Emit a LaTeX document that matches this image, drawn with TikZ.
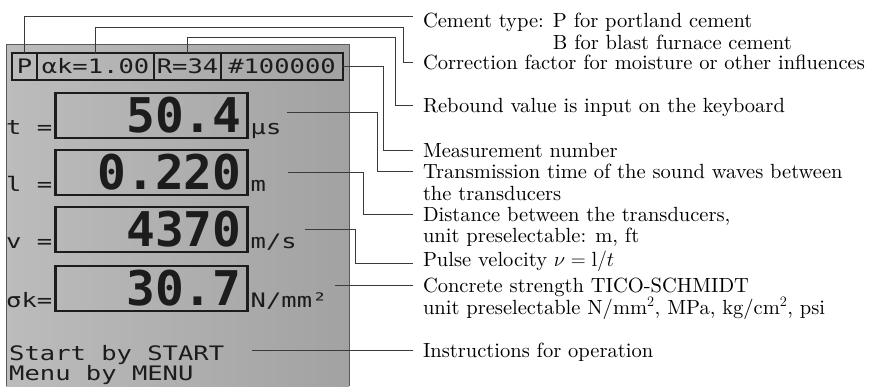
\documentclass[tikz,border=0pt]{standalone}
\usepackage{fontspec}
\usetikzlibrary{positioning}
\setmainfont{lmroman10-regular.otf}[ItalicFont=lmroman10-italic.otf, BoldFont=lmroman10-bold.otf]
\newfontfamily\lcdfont{DejaVu Sans Mono}
\definecolor{lcdLight}{HTML}{BCBCBC}
\definecolor{lcdDark}{HTML}{A2A2A2}
\definecolor{lcdEdge}{HTML}{5A5A5A}
\definecolor{lcdInk}{HTML}{1C1C1C}
\definecolor{leadGray}{HTML}{3A3A3A}
\newcommand{\lcdtext}[1]{{\lcdfont\fontsize{20}{20}\selectfont\scalebox{1.28}[1]{#1}}}
\tikzset{
  cell/.style={draw=lcdInk, line width=1.8bp, minimum height=27bp, inner sep=0pt, outer sep=0pt, text=lcdInk},
  valbox/.style={draw=lcdInk, line width=2.2bp, minimum height=45bp, text width=180bp, align=right, inner xsep=6bp, inner ysep=0pt, outer sep=0pt, text=lcdInk, font=\lcdfont\bfseries\fontsize{48}{48}\selectfont},
  lcdlabel/.style={anchor=base west, inner sep=0pt, text=lcdInk},
  lead/.style={draw=leadGray, line width=0.8bp},
  note/.style={anchor=base west, inner xsep=10bp, inner ysep=0pt, outer sep=0pt, text height=14bp, text depth=0pt, font=\fontsize{20.6}{22}\selectfont}
}

\begin{document}
\begin{tikzpicture}[x=1bp, y=-1bp]
  \useasboundingbox (0,0) rectangle (872,386);
  % display panel
  \fill[left color=lcdLight, right color=lcdDark] (6,44) rectangle (349,386);
  \draw[lcdEdge, line width=1bp] (6,386) -- (6,44) -- (349,44) -- (349,386);

  % status line
  \node[cell, minimum width=25bp, anchor=west] (ptype) at (12,66.5) {\lcdtext{P}};
  \node[cell, minimum width=117bp, right=0pt of ptype] (akcell) {\lcdtext{αk=1.00}};
  \node[cell, minimum width=67bp, right=0pt of akcell] (rcell) {\lcdtext{R=34}};
  \node[cell, minimum width=122bp, right=0pt of rcell] (numcell) {\lcdtext{\#100000}};

  % measured values
  \node[valbox] (tbox) at (151.5,115.5) {50.4};
  \node[valbox, below=12bp of tbox] (lbox) {0.220};
  \node[valbox, below=12bp of lbox] (vbox) {4370};
  \node[valbox, below=14bp of vbox] (sbox) {30.7};

  \node[lcdlabel, anchor=base east] (tlab) at ([xshift=-3bp,yshift=4bp]tbox.south west) {\lcdtext{t =}};
  \node[lcdlabel, anchor=base east] (llab) at ([xshift=-3bp,yshift=4bp]lbox.south west) {\lcdtext{l =}};
  \node[lcdlabel, anchor=base east] (vlab) at ([xshift=-3bp,yshift=4bp]vbox.south west) {\lcdtext{v =}};
  \node[lcdlabel, anchor=base east] (slab) at ([xshift=-3bp,yshift=4bp]sbox.south west) {\lcdtext{σk=}};

  \node[lcdlabel] (tunit) at ([xshift=3bp,yshift=4bp]tbox.south east) {\lcdtext{μs}};
  \node[lcdlabel] (lunit) at ([xshift=3bp,yshift=4bp]lbox.south east) {\lcdtext{m}};
  \node[lcdlabel] (vunit) at ([xshift=3bp,yshift=4bp]vbox.south east) {\lcdtext{m/s}};
  \node[lcdlabel] (sunit) at ([xshift=3bp,yshift=4bp]sbox.south east) {\lcdtext{N/mm²}};

  \node[lcdlabel] (startmsg) at (9,360) {\lcdtext{Start by START}};
  \node[lcdlabel] (menumsg) at (9,380) {\lcdtext{Menu by MENU}};

  % explanations
  \node[note] (cement) at (413,27) {Cement type: P for portland cement};
  \node[note] (blast) at (413,49) {\phantom{Cement type: }B for blast furnace cement};
  \node[note] (corr) at (413,69) {Correction factor for moisture or other influences};
  \node[note] (rebound) at (413,112) {Rebound value is input on the keyboard};
  \node[note] (meas) at (413,157) {Measurement number};
  \node[note] (trans) at (413,178) {Transmission time of the sound waves between};
  \node[note] (transb) at (413,200) {the transducers};
  \node[note] (dist) at (413,221) {Distance between the transducers,};
  \node[note] (distb) at (413,242) {unit preselectable: m, ft};
  \node[note] (pulse) at (413,266) {Pulse velocity $\nu = \mathrm{l}/t$};
  \node[note] (strength) at (413,292) {Concrete strength TICO-SCHMIDT};
  \node[note] (strengthb) at (413,314) {unit preselectable N/mm$^2$, MPa, kg/cm$^2$, psi};
  \node[note] (instr) at (413,357) {Instructions for operation};

  % leaders
  \coordinate (tlead) at (287,112);
  \coordinate (llead) at (288,172);
  \coordinate (vlead) at (305,229);
  \coordinate (pulsein) at ([yshift=3bp]pulse.south west);
  \draw[lead] (ptype.north) |- ([yshift=-3bp]cement.north west);
  \draw[lead] (akcell.north) -- ++(0,-26) -| ([xshift=-10bp]corr.west) -- (corr.west);
  \draw[lead] (rcell.north) -- ++(0,-16) -| ([xshift=-18bp]rebound.west) -- (rebound.west);
  \draw[lead] (numcell.east) -| ([xshift=-30bp]meas.west) -- (meas.west);
  \draw[lead] (tlead) -| ([xshift=-36bp]trans.west) -- (trans.west);
  \draw[lead] (llead) -| ([xshift=-50bp]dist.west) -- (dist.west);
  \draw[lead] (vlead) -| ([xshift=-58bp]pulsein) -- (pulsein);
  \draw[lead] (strength.west) -- ++(-78,0);
  \draw[lead] (instr.west) -- ++(-161,0);
\end{tikzpicture}
\end{document}
